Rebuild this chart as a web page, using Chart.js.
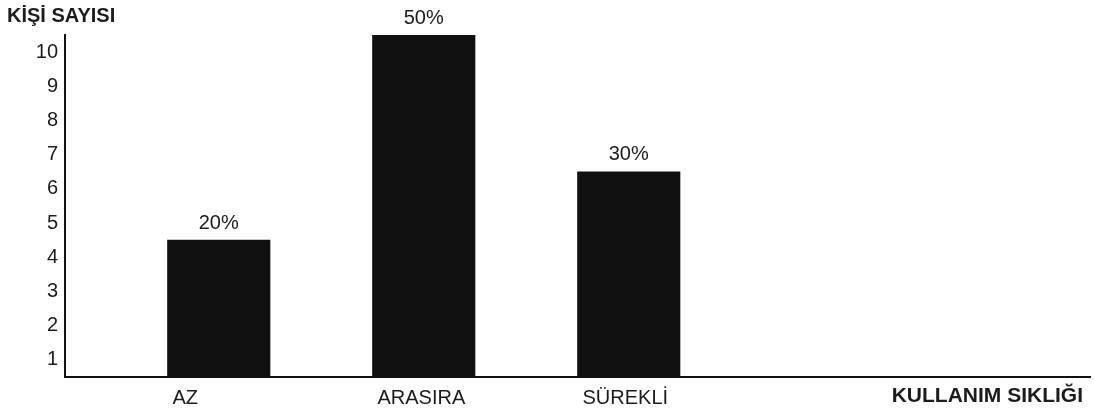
<!DOCTYPE html>
<html>
<head>
<meta charset="utf-8">
<script src="https://cdn.jsdelivr.net/npm/chart.js@4/dist/chart.umd.min.js"></script>
<style>
  html, body { margin: 0; padding: 0; background: #fff; }
  #wrap { width: 1094px; height: 412px; position: relative; }
</style>
</head>
<body>
<div id="wrap"><canvas id="c"></canvas></div>
<script>
// Usage frequency categories and number of people in each
const categories = ['AZ', 'ARASIRA', 'SÜREKLİ'];
const counts = [4, 10, 6];
// Labels shown on the value axis (each sits in the middle of its unit band)
const yTickLabels = ['1', '2', '3', '4', '5', '6', '7', '8', '9', '10'];
const yAxisTitle = 'KİŞİ SAYISI';
const xAxisTitle = 'KULLANIM SIKLIĞI';
// Unused slots at the right end of the frequency axis
const emptySlots = ['', ''];

const FONT = '"Liberation Sans", Arial, sans-serif';
const INK = '#1c1c1c';
const BAR = '#111111';

const total = counts.reduce((a, b) => a + b, 0);

// Percentage labels above each bar and the two axis titles
const annotate = {
  id: 'annotate',
  afterDatasetsDraw(chart) {
    const ctx = chart.ctx;
    const meta = chart.getDatasetMeta(1);
    ctx.save();
    ctx.fillStyle = INK;
    ctx.font = '20px ' + FONT;
    ctx.textAlign = 'center';
    ctx.textBaseline = 'bottom';
    meta.data.forEach((bar, i) => {
      const pct = Math.round(counts[i] / total * 100) + '%';
      ctx.fillText(pct, bar.x, bar.y - 7);
    });
    ctx.restore();
  },
  afterDraw(chart) {
    const ctx = chart.ctx;
    const area = chart.chartArea;
    ctx.save();
    ctx.fillStyle = INK;
    ctx.textBaseline = 'middle';
    ctx.font = 'bold 20px ' + FONT;
    ctx.textAlign = 'left';
    ctx.fillText(yAxisTitle, 7, 16);
    ctx.font = 'bold 21px ' + FONT;
    ctx.textAlign = 'right';
    ctx.fillText(xAxisTitle, area.right - 7, area.bottom + 19);
    ctx.restore();
  }
};

new Chart(document.getElementById('c'), {
  type: 'bar',
  data: {
    labels: categories.concat(emptySlots),
    datasets: [
      // leading slot in each group keeps the bars on the right half of their band
      { label: '', data: [], backgroundColor: 'rgba(0,0,0,0)' },
      { label: yAxisTitle, data: counts, backgroundColor: BAR, borderWidth: 0 }
    ]
  },
  options: {
    responsive: true,
    maintainAspectRatio: false,
    devicePixelRatio: 1,
    animation: false,
    events: [],
    categoryPercentage: 1,
    barPercentage: 1,
    layout: { padding: { top: 35, right: 4, left: 0, bottom: 0 } },
    plugins: {
      legend: { display: false },
      tooltip: { enabled: false },
      title: { display: false }
    },
    scales: {
      x: {
        type: 'category',
        offset: true,
        grid: { display: false, drawTicks: false },
        border: { display: true, color: BAR, width: 2 },
        ticks: {
          autoSkip: false,
          maxRotation: 0,
          minRotation: 0,
          align: 'start',
          labelOffset: 5,
          padding: 9,
          color: INK,
          font: { family: FONT, size: 20 }
        },
        afterFit(scale) { scale.height = 35; }
      },
      y: {
        min: 0,
        max: 10,
        grid: { display: false, drawTicks: false },
        border: { display: true, color: BAR, width: 2 },
        afterBuildTicks(scale) {
          scale.ticks = yTickLabels.map((t, i) => ({ value: i + 0.5 }));
        },
        ticks: {
          padding: 7,
          color: INK,
          font: { family: FONT, size: 20 },
          callback: (value, index) => yTickLabels[index]
        },
        afterFit(scale) { scale.width = 65; }
      }
    }
  },
  plugins: [annotate]
});
</script>
</body>
</html>
